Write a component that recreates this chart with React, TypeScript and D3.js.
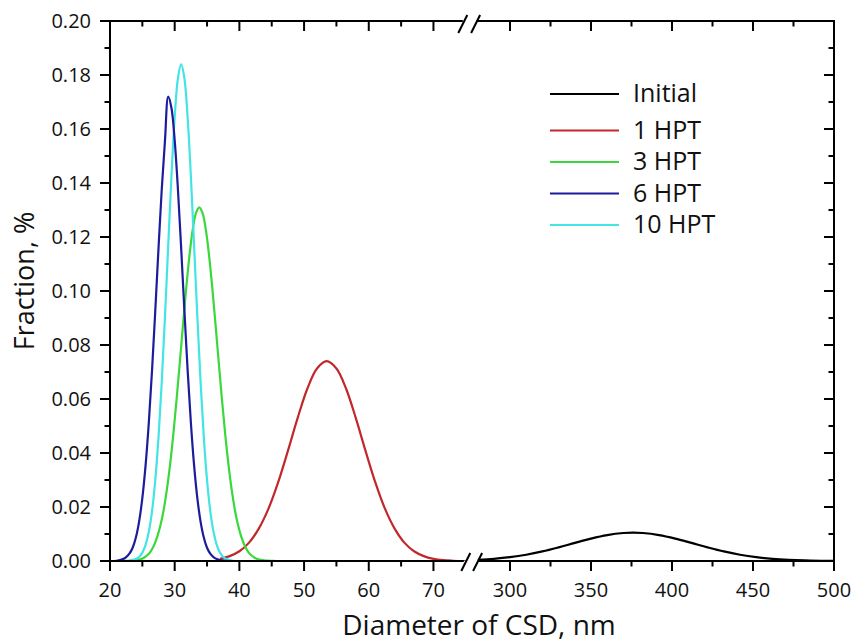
import React from "react";
import * as d3 from "d3";

// ---- data ----
const seriesNames = ["Initial", "1 HPT", "3 HPT", "6 HPT", "10 HPT"];
const seriesColors = ["#000000", "#c0282c", "#3ad83a", "#1c1c9c", "#44e4e4"];

// Initial (right segment of the broken axis)
const initialX = [280, 290, 300, 310, 320, 330, 340, 350, 360, 370, 376, 382, 392, 402, 412, 422, 432, 442, 452, 462, 472, 482, 492, 500];
const initialY = [0.00043, 0.00081, 0.00142, 0.00232, 0.00354, 0.00505, 0.0067, 0.00831, 0.00961, 0.01037, 0.0105, 0.01037, 0.00961, 0.00831, 0.0067, 0.00505, 0.00354, 0.00232, 0.00142, 0.00081, 0.00043, 0.00021, 0.0001, 0.00005];

// 1 HPT
const hpt1X = [37, 38.5, 40, 41.5, 43, 44.5, 46, 47.5, 49, 50.5, 52, 53.5, 55, 56.5, 58, 59.5, 61, 62.5, 64, 65.5, 67, 68.5, 70, 71.5, 73, 75];
const hpt1Y = [0.0008, 0.0018, 0.0036, 0.0068, 0.012, 0.0194, 0.0292, 0.0408, 0.0529, 0.0638, 0.0713, 0.074, 0.0713, 0.0638, 0.0529, 0.0408, 0.0292, 0.0194, 0.012, 0.0068, 0.0036, 0.0018, 0.0008, 0.0003, 0.0001, 0.0];

// 3 HPT
const hpt3X = [21.8, 22.8, 23.8, 24.8, 25.3, 25.8, 26.3, 26.8, 27.3, 27.8, 28.3, 28.8, 29.3, 29.8, 30.3, 30.8, 31.3, 31.8, 32.3, 32.8, 33.3, 33.8, 34.3, 34.8, 35.3, 35.8, 36.3, 36.8, 37.3, 37.8, 38.3, 38.8, 39.3, 39.8, 40.3, 40.8, 41.3, 41.8, 42.3, 42.8, 43.8, 44.8, 45.8];
const hpt3Y = [0.0, 0.0001, 0.0002, 0.0007, 0.0013, 0.0022, 0.0036, 0.0058, 0.0089, 0.0132, 0.019, 0.0266, 0.036, 0.0472, 0.06, 0.0738, 0.0879, 0.1015, 0.1135, 0.1229, 0.1289, 0.131, 0.1289, 0.1229, 0.1135, 0.1015, 0.0879, 0.0738, 0.06, 0.0472, 0.036, 0.0266, 0.019, 0.0132, 0.0089, 0.0058, 0.0036, 0.0022, 0.0013, 0.0007, 0.0002, 0.0001, 0.0];

// 6 HPT
const hpt6X = [20, 21, 22, 22.5, 23, 23.5, 24, 24.5, 25, 25.5, 26, 26.5, 27, 27.5, 28, 28.5, 29, 29.5, 30, 30.5, 31, 31.5, 32, 32.5, 33, 33.5, 34, 34.5, 35, 35.5, 36, 36.5, 37, 38, 39];
const hpt6Y = [0.0, 0.0001, 0.0007, 0.0014, 0.0027, 0.0049, 0.0087, 0.0146, 0.0233, 0.0354, 0.0513, 0.0707, 0.0928, 0.1159, 0.1377, 0.1558, 0.172, 0.1678, 0.1558, 0.1377, 0.1159, 0.0928, 0.0707, 0.0513, 0.0354, 0.0233, 0.0146, 0.0087, 0.0049, 0.0027, 0.0014, 0.0007, 0.0003, 0.0001, 0.0];

// 10 HPT
const hpt10X = [22, 23, 24, 24.5, 25, 25.5, 26, 26.5, 27, 27.5, 28, 28.5, 29, 29.5, 30, 30.5, 31, 31.5, 32, 32.5, 33, 33.5, 34, 34.5, 35, 35.5, 36, 36.5, 37, 37.5, 38, 39, 40];
const hpt10Y = [0.0, 0.0001, 0.0007, 0.0015, 0.0031, 0.006, 0.0108, 0.0185, 0.03, 0.0459, 0.0663, 0.0906, 0.1169, 0.1426, 0.1643, 0.1788, 0.184, 0.1788, 0.1643, 0.1426, 0.1169, 0.0906, 0.0663, 0.0459, 0.03, 0.0185, 0.0108, 0.006, 0.0031, 0.0015, 0.0007, 0.0001, 0.0];

const leftMajorTicks = [20, 30, 40, 50, 60, 70];
const leftMinorTicks = [25, 35, 45, 55, 65];
const rightMajorTicks = [300, 350, 400, 450, 500];
const rightMinorTicks = [325, 375, 425, 475];
const yMajorTicks = [0, 0.02, 0.04, 0.06, 0.08, 0.1, 0.12, 0.14, 0.16, 0.18, 0.2];
const yMinorTicks = [0.01, 0.03, 0.05, 0.07, 0.09, 0.11, 0.13, 0.15, 0.17, 0.19];

const leftDomain = [20, 75];
const rightDomain = [280, 500];
const yDomain = [0, 0.2];

const xTitle = "Diameter of CSD, nm";
const yTitle = "Fraction, %";

// ---- layout ----
const W = 854;
const H = 644;
const plotLeft = 110;
const plotRight = 834;
const plotTop = 21;
const plotBottom = 561;
const breakLeftEnd = 465.8;
const breakRightStart = 477.6;
const FONT = "'Open Sans', 'Noto Sans', sans-serif";

export default function App() {
  const xL = d3.scaleLinear().domain(leftDomain).range([plotLeft, breakLeftEnd]);
  const xR = d3.scaleLinear().domain(rightDomain).range([breakRightStart, plotRight]);
  const y = d3.scaleLinear().domain(yDomain).range([plotBottom, plotTop]);

  const mk = (xs: number[], ys: number[]) => xs.map((v, i) => [v, ys[i]] as [number, number]);
  const lineL = d3.line<[number, number]>().x((d) => xL(d[0])).y((d) => y(d[1])).curve(d3.curveCatmullRom.alpha(0.5));
  const lineR = d3.line<[number, number]>().x((d) => xR(d[0])).y((d) => y(d[1])).curve(d3.curveCatmullRom.alpha(0.5));

  const leftSeries = [
    { d: mk(hpt1X, hpt1Y), c: seriesColors[1] },
    { d: mk(hpt3X, hpt3Y), c: seriesColors[2] },
    { d: mk(hpt10X, hpt10Y), c: seriesColors[4] },
    { d: mk(hpt6X, hpt6Y), c: seriesColors[3] },
  ];

  const axisW = 2;
  const majLen = 10;
  const minLen = 5.5;

  const slashes = (cx: number, cy: number, key: string) => (
    <line key={key} x1={cx - 4.5} y1={cy + 9} x2={cx + 4.5} y2={cy - 9} stroke="#000" strokeWidth={2} />
  );

  const legendRowsY = seriesNames.map((_, i) => (i === 0 ? 94 : 130.5 + (i - 1) * 31.5));

  return (
    <svg width={W} height={H} style={{ position: "absolute", left: 0, top: 0, background: "#fff" }} fontFamily={FONT}>
      <rect x={0} y={0} width={W} height={H} fill="#fff" />
      <defs>
        <clipPath id="clipL">
          <rect x={plotLeft} y={plotTop - 5} width={breakLeftEnd - plotLeft} height={plotBottom - plotTop + 5} />
        </clipPath>
        <clipPath id="clipR">
          <rect x={breakRightStart} y={plotTop - 5} width={plotRight - breakRightStart} height={plotBottom - plotTop + 5} />
        </clipPath>
      </defs>

      {/* curves */}
      <g clipPath="url(#clipR)">
        <path d={lineR(mk(initialX, initialY)) || ""} fill="none" stroke={seriesColors[0]} strokeWidth={2.2} />
      </g>
      <g clipPath="url(#clipL)">
        {leftSeries.map((s, i) => (
          <path key={i} d={lineL(s.d) || ""} fill="none" stroke={s.c} strokeWidth={2.2} />
        ))}
      </g>

      {/* frame: bottom & top broken lines */}
      <g stroke="#000" strokeWidth={axisW} fill="none">
        <line x1={plotLeft - 1} y1={plotBottom} x2={breakLeftEnd - 2} y2={plotBottom} />
        <line x1={breakRightStart + 1} y1={plotBottom} x2={plotRight + 1} y2={plotBottom} />
        <line x1={plotLeft - 1} y1={plotTop} x2={breakLeftEnd - 3} y2={plotTop} />
        <line x1={breakRightStart - 1} y1={plotTop} x2={plotRight + 1} y2={plotTop} />
        <line x1={plotLeft} y1={plotTop} x2={plotLeft} y2={plotBottom} />
        <line x1={plotRight} y1={plotTop} x2={plotRight} y2={plotBottom} />
      </g>
      {slashes(breakLeftEnd, plotBottom + 1, "b1")}
      {slashes(breakRightStart, plotBottom + 1, "b2")}
      {slashes(breakLeftEnd - 3, plotTop + 3, "t1")}
      {slashes(breakRightStart - 2, plotTop + 3, "t2")}

      {/* x ticks */}
      <g stroke="#000" strokeWidth={2}>
        {leftMajorTicks.map((t) => (
          <g key={"lm" + t}>
            <line x1={xL(t)} x2={xL(t)} y1={plotBottom} y2={plotBottom + majLen} />
            <line x1={xL(t)} x2={xL(t)} y1={plotTop} y2={plotTop + majLen} />
          </g>
        ))}
        {leftMinorTicks.map((t) => (
          <g key={"ln" + t}>
            <line x1={xL(t)} x2={xL(t)} y1={plotBottom} y2={plotBottom + minLen} />
            <line x1={xL(t)} x2={xL(t)} y1={plotTop} y2={plotTop + minLen} />
          </g>
        ))}
        {rightMajorTicks.map((t) => (
          <g key={"rm" + t}>
            <line x1={xR(t)} x2={xR(t)} y1={plotBottom} y2={plotBottom + majLen} />
            <line x1={xR(t)} x2={xR(t)} y1={plotTop} y2={plotTop + majLen} />
          </g>
        ))}
        {rightMinorTicks.map((t) => (
          <g key={"rn" + t}>
            <line x1={xR(t)} x2={xR(t)} y1={plotBottom} y2={plotBottom + minLen} />
            <line x1={xR(t)} x2={xR(t)} y1={plotTop} y2={plotTop + minLen} />
          </g>
        ))}
        {yMajorTicks.map((t) => (
          <g key={"ym" + t}>
            <line x1={plotLeft - majLen} x2={plotLeft} y1={y(t)} y2={y(t)} />
            <line x1={plotRight - majLen} x2={plotRight} y1={y(t)} y2={y(t)} />
          </g>
        ))}
        {yMinorTicks.map((t) => (
          <g key={"yn" + t}>
            <line x1={plotLeft - minLen} x2={plotLeft} y1={y(t)} y2={y(t)} />
            <line x1={plotRight - minLen} x2={plotRight} y1={y(t)} y2={y(t)} />
          </g>
        ))}
      </g>

      {/* tick labels */}
      <g fontSize={20} fill="#111">
        {leftMajorTicks.map((t) => (
          <text key={"lt" + t} x={xL(t)} y={597} textAnchor="middle">{t}</text>
        ))}
        {rightMajorTicks.map((t) => (
          <text key={"rt" + t} x={xR(t)} y={597} textAnchor="middle">{t}</text>
        ))}
        {yMajorTicks.map((t) => (
          <text key={"yt" + t} x={91} y={y(t) + 7} textAnchor="end">{d3.format(".2f")(t)}</text>
        ))}
      </g>

      {/* axis titles */}
      <text x={479} y={635} textAnchor="middle" fontSize={28} fill="#111">{xTitle}</text>
      <text transform={`translate(34,281) rotate(-90)`} textAnchor="middle" fontSize={27} fill="#111">{yTitle}</text>

      {/* legend */}
      <g>
        {seriesNames.map((n, i) => (
          <g key={n}>
            <line x1={550} x2={619} y1={legendRowsY[i]} y2={legendRowsY[i]} stroke={seriesColors[i]} strokeWidth={2.2} />
            <text x={633} y={legendRowsY[i] + 8} fontSize={25} fill="#111">{n}</text>
          </g>
        ))}
      </g>
    </svg>
  );
}
